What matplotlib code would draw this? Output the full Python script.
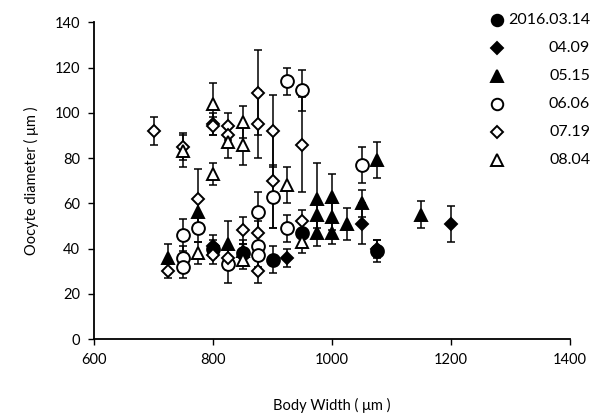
import matplotlib
matplotlib.use("Agg")
import matplotlib.pyplot as plt
from matplotlib.lines import Line2D

plt.rcParams['font.family'] = ['Lato', 'DejaVu Sans']

# ---- data (Body width um, oocyte diameter um, SD) ----
labels = ["2016.03.14", "04.09", "05.15", "06.06", "07.19", "08.04"]

x_0314 = [800, 850, 900, 950, 1075]
y_0314 = [40, 38, 35, 47, 39]
e_0314 = [4, 4, 6, 5, 5]

x_0409 = [800, 925, 1050, 1075, 1200]
y_0409 = [41, 36, 51, 40, 51]
e_0409 = [5, 4, 9, 4, 8]

x_0515 = [725, 775, 825, 850, 975, 975, 975, 1000, 1000, 1000, 1025, 1050, 1075, 1150]
y_0515 = [36, 56, 42, 39, 62, 55, 47, 63, 54, 47, 51, 60, 79, 55]
e_0515 = [6, 7, 10, 5, 16, 6, 6, 10, 6, 5, 7, 6, 8, 6]

x_0606 = [750, 750, 750, 775, 825, 875, 875, 875, 900, 925, 925, 950, 1050]
y_0606 = [46, 36, 32, 49, 33, 56, 41, 37, 63, 114, 49, 110, 77]
e_0606 = [7, 5, 5, 6, 8, 9, 5, 5, 14, 6, 6, 9, 8]

x_0719 = [700, 725, 750, 775, 800, 800, 800, 825, 825, 825, 850, 875, 875, 875, 875, 900, 900, 950, 950]
y_0719 = [92, 30, 85, 62, 95, 94, 37, 94, 90, 36, 48, 109, 95, 47, 30, 92, 70, 86, 52]
e_0719 = [6, 3, 6, 13, 5, 4, 4, 6, 5, 5, 6, 19, 15, 5, 5, 16, 21, 21, 5]

x_0804 = [750, 775, 800, 800, 825, 850, 850, 850, 925, 950]
y_0804 = [83, 38, 104, 73, 87, 96, 86, 35, 68, 43]
e_0804 = [7, 5, 9, 5, 7, 7, 9, 4, 8, 5]

x_ticks = [600, 800, 1000, 1200, 1400]
y_ticks = [0, 20, 40, 60, 80, 100, 120, 140]

series = [
    (x_0314, y_0314, e_0314, 'o', 'black', 9.2),
    (x_0409, y_0409, e_0409, 'D', 'black', 6.6),
    (x_0515, y_0515, e_0515, '^', 'black', 9.2),
    (x_0606, y_0606, e_0606, 'o', 'white', 9.2),
    (x_0719, y_0719, e_0719, 'D', 'white', 6.6),
    (x_0804, y_0804, e_0804, '^', 'white', 9.2),
]

fig = plt.figure(figsize=(5.92, 4.15), dpi=100)
ax = fig.add_axes([0.159, 0.183, 0.804, 0.763])

for xs, ys, es, m, fc, ms in series:
    ax.errorbar(xs, ys, yerr=es, fmt='none', ecolor='black', elinewidth=1.1,
                capsize=3, capthick=1.1, zorder=2)
for xs, ys, es, m, fc, ms in series:
    ax.plot(xs, ys, linestyle='none', marker=m, markersize=ms,
            markerfacecolor=fc, markeredgecolor='black', markeredgewidth=1.4, zorder=3)

ax.set_xlim(600, 1400)
ax.set_ylim(0, 140)
ax.set_xticks(x_ticks)
ax.set_yticks(y_ticks)
ax.spines['top'].set_visible(False)
ax.spines['right'].set_visible(False)
ax.spines['left'].set_linewidth(1.3)
ax.spines['bottom'].set_linewidth(1.3)
ax.tick_params(direction='out', length=4, width=1.0, labelsize=10.5, colors='black', pad=6)
ax.set_xlabel('Body Width ( \u03bcm )', fontsize=10.5, labelpad=22)
ax.set_ylabel('Oocyte diameter ( \u03bcm )', fontsize=10.5, labelpad=11)

# legend (manual, right-aligned labels)
leg_y0 = 0.952
leg_dy = 0.0675
for i, (lab, s) in enumerate(zip(labels, series)):
    yy = leg_y0 - i * leg_dy
    fig.add_artist(Line2D([0.839], [yy], transform=fig.transFigure, linestyle='none',
                          marker=s[3], markersize=s[5] * 0.9, markerfacecolor=s[4],
                          markeredgecolor='black', markeredgewidth=1.4))
    fig.text(0.997, yy, lab, ha='right', va='center', fontsize=11.5)

fig.savefig('out.png', dpi=100)
